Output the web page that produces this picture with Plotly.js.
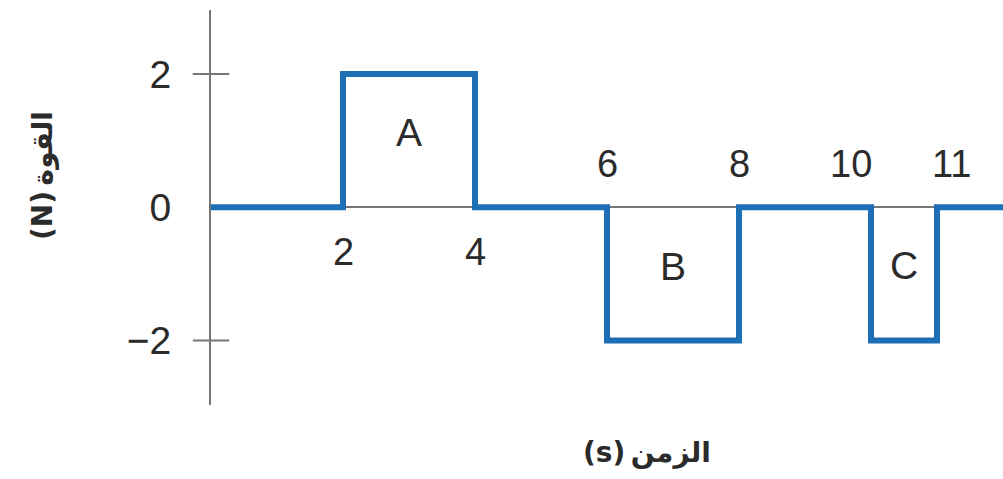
<!DOCTYPE html>
<html>
<head>
<meta charset="utf-8">
<script src="https://cdn.plot.ly/plotly-3.0.1.min.js"></script>
<style>
  html, body { margin: 0; padding: 0; background: #fff; }
  #chart { width: 1003px; height: 479px; }
</style>
</head>
<body>
<div id="chart"></div>
<script>
// force (N) against time (s), step changes
const times  = [0, 2, 4, 6, 8, 10, 11, 12];
const forces = [0, 2, 0, -2, 0, -2, 0, 0];

// time labels written along the zero line
const timeTicks  = [2, 4, 6, 8, 10, 11];
const timeLabels = ['2', '4', '6', '8', '10', '11'];
const timeBelow  = [true, true, false, false, false, false];

// force axis
const forceTicks  = [-2, 0, 2];
const forceLabels = ['\u22122', '0', '2'];
const forceMarks  = [-2, 2];

// area names
const areaNames = ['A', 'B', 'C'];
const areaT     = [3, 7, 10.5];
const areaF     = [1.07, -0.95, -0.93];

const BLUE = '#1c6fb5';
const GREY = '#767676';
const INK  = '#2b2b2b';
const NUM_FONT = 'Liberation Sans, Arial, sans-serif';
const AR_FONT  = 'DejaVu Sans, sans-serif';

const traces = [
  {
    x: times, y: forces,
    type: 'scatter', mode: 'lines',
    line: { color: BLUE, width: 6, shape: 'hv' },
    hoverinfo: 'skip',
  },
  {
    // tick crosses on the force axis
    x: forceMarks.map(() => 0), y: forceMarks,
    type: 'scatter', mode: 'markers',
    marker: { symbol: 'line-ew', size: 26, line: { color: GREY, width: 2 } },
    cliponaxis: false,
    hoverinfo: 'skip',
  },
  {
    x: areaT, y: areaF, text: areaNames,
    type: 'scatter', mode: 'text',
    textfont: { family: NUM_FONT, size: 39, color: INK },
    hoverinfo: 'skip',
  },
];

// small offsets so 10 and 11 sit apart as in the print
const labelShift = { '10': -20, '11': 14 };

const annotations = timeTicks.map((t, i) => ({
  x: t, y: 0, xref: 'x', yref: 'y',
  text: timeLabels[i],
  showarrow: false,
  xshift: labelShift[timeLabels[i]] || 0,
  yshift: timeBelow[i] ? -45 : 43,
  font: { family: NUM_FONT, size: 38, color: INK },
}));

annotations.push({
  xref: 'paper', yref: 'paper',
  x: (647 - 211) / 792, y: (479 - 74 - 452) / 395,
  xanchor: 'center', yanchor: 'middle',
  text: '(s)\u2009الزمن',
  showarrow: false,
  font: { family: AR_FONT, size: 28, color: INK, weight: 'bold' },
});
annotations.push({
  xref: 'paper', yref: 'paper',
  x: (42 - 211) / 792, y: (405 - 176) / 395,
  xanchor: 'center', yanchor: 'middle',
  text: '(N)\u2009القوة',
  textangle: -90,
  showarrow: false,
  font: { family: AR_FONT, size: 28, color: INK, weight: 'bold' },
});

const layout = {
  width: 1003, height: 479,
  margin: { l: 211, r: 0, t: 10, b: 74, pad: 0 },
  paper_bgcolor: '#fff',
  plot_bgcolor: '#fff',
  showlegend: false,
  xaxis: {
    range: [0, 12],
    visible: false,
    fixedrange: true,
  },
  yaxis: {
    range: [-2.97, 2.96],
    showgrid: false,
    showline: true, linecolor: GREY, linewidth: 2,
    zeroline: true, zerolinecolor: GREY, zerolinewidth: 2,
    tickmode: 'array', tickvals: forceTicks, ticktext: forceLabels,
    ticks: '',
    ticklabelstandoff: 30,
    tickfont: { family: NUM_FONT, size: 39, color: INK },
    fixedrange: true,
  },
  annotations,
};

Plotly.newPlot('chart', traces, layout, { displayModeBar: false, staticPlot: true });
</script>
</body>
</html>
